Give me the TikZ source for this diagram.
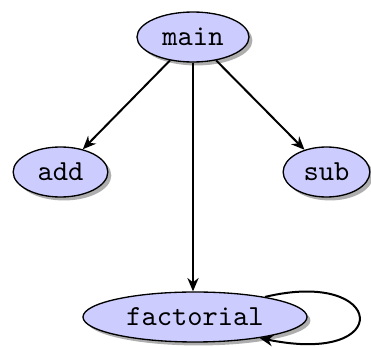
\documentclass[tikz,border=0pt]{standalone}
\usetikzlibrary{shapes.geometric,shadows,arrows.meta}
\begin{document}
\begin{tikzpicture}[x=0.375pt,y=-0.375pt,
  fn/.style={ellipse,draw=black,line width=0.5pt,fill=blue!20,inner sep=0pt,
    minimum height=18.75pt,font=\fontsize{10.9pt}{13pt}\selectfont\ttfamily,
    drop shadow={shadow xshift=1.3pt,shadow yshift=-1.3pt,fill=black!45,opacity=0.7}},
  edge/.style={line width=0.75pt,-{Stealth[length=5pt,width=4.2pt]}}]
\useasboundingbox (0,0) rectangle (371,347);
\node[fn,minimum width=42pt] (main) at (193,37) {main};
\node[fn,minimum width=35.5pt] (add) at (60.5,172) {add};
\node[fn,minimum width=32.5pt] (sub) at (326.5,172) {sub};
\node[fn,minimum width=84pt] (factorial) at (195,317) {factorial};
\draw[edge] (main) -- (add);
\draw[edge] (main) -- (sub);
\draw[edge] (main.south -| 193,0) -- (factorial.north -| 193,0);
\draw[edge] (factorial.16) .. controls (386,268) and (396,366) .. (factorial.-18);
\end{tikzpicture}
\end{document}
